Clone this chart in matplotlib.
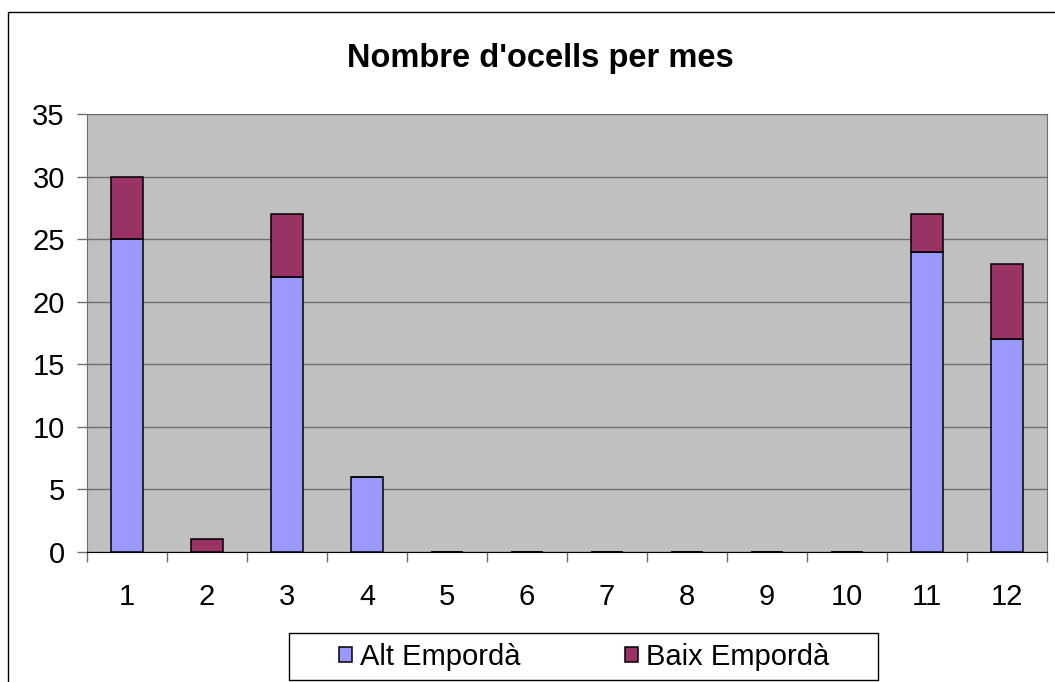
import matplotlib.pyplot as plt
from matplotlib.patches import Rectangle
import numpy as np

plt.rcParams['font.family'] = ['Liberation Sans', 'DejaVu Sans']

months = ["1", "2", "3", "4", "5", "6", "7", "8", "9", "10", "11", "12"]
alt_emporda = [25, 0, 22, 6, 0, 0, 0, 0, 0, 0, 24, 17]
baix_emporda = [5, 1, 5, 0, 0, 0, 0, 0, 0, 0, 3, 6]
series_names = ["Alt Empordà", "Baix Empordà"]
colors = ["#9999FF", "#993366"]
yticks = [0, 5, 10, 15, 20, 25, 30, 35]

W, H = 1055, 682
fig = plt.figure(figsize=(W / 100, H / 100), dpi=100)

# outer chart border (cut off at right and bottom like the source)
fig.patches.append(Rectangle((8 / W, -0.1), 1.2, (H - 12) / H + 0.1,
                             transform=fig.transFigure, fill=False,
                             edgecolor="black", linewidth=1.0))

ax = fig.add_axes([87 / W, (H - 552) / H, 960 / W, 438 / H])
ax.set_facecolor("#C0C0C0")

x = np.arange(len(months))
ax.bar(x, alt_emporda, width=0.41, color=colors[0], edgecolor="black",
       linewidth=1.1, label=series_names[0], zorder=3)
ax.bar(x, baix_emporda, width=0.41, bottom=alt_emporda, color=colors[1],
       edgecolor="black", linewidth=1.1, label=series_names[1], zorder=3)

ax.set_xlim(-0.5, len(months) - 0.5)
ax.set_ylim(0, 35)
ax.set_yticks(yticks)
ax.yaxis.grid(True, color="#6E6E6E", linewidth=1.0)
ax.set_axisbelow(True)

# category ticks between the bars, labels centred under them
ax.set_xticks(np.arange(-0.5, len(months)), minor=False)
ax.set_xticklabels([])
ax.set_xticks(x, minor=True)
ax.set_xticklabels(months, minor=True)
ax.tick_params(axis="x", which="major", length=7, width=1.0, color="#6E6E6E")
ax.tick_params(axis="x", which="minor", length=0, pad=22, labelsize=21)
ax.tick_params(axis="y", length=7, width=1.0, color="#6E6E6E", pad=9, labelsize=21)

for side in ["top", "right"]:
    ax.spines[side].set_color("#6E6E6E")
ax.spines["left"].set_color("#6E6E6E")
ax.spines["bottom"].set_color("black")

fig.text(540 / W, 1 - 58 / H, "Nombre d'ocells per mes", ha="center",
         va="center", fontsize=23.5, fontweight="bold")

# legend box drawn separately so its wide side padding matches
fig.patches.append(Rectangle((289 / W, 1 - 680 / H), 589 / W, 47 / H,
                             transform=fig.transFigure, facecolor="white",
                             edgecolor="black", linewidth=1.0, zorder=1))
leg = fig.legend(loc="center", bbox_to_anchor=(584 / W, 1 - 657 / H),
                 ncol=2, fontsize=21, frameon=False,
                 handlelength=0.45, handleheight=0.45,
                 handletextpad=0.25, columnspacing=3.6, borderpad=0,
                 borderaxespad=0)
leg.set_zorder(2)

fig.savefig("out.png", dpi=100)
